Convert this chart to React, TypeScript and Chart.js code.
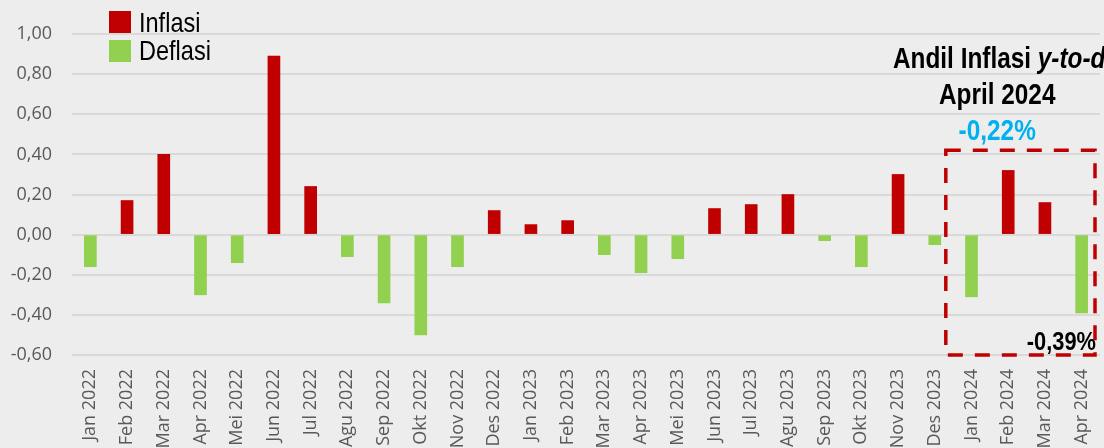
import React, { useEffect, useRef } from "react";
import { Chart, registerables } from "chart.js";

Chart.register(...registerables);

const categories = [
  "Jan 2022", "Feb 2022", "Mar 2022", "Apr 2022", "Mei 2022", "Jun 2022", "Jul 2022",
  "Agu 2022", "Sep 2022", "Okt 2022", "Nov 2022", "Des 2022",
  "Jan 2023", "Feb 2023", "Mar 2023", "Apr 2023", "Mei 2023", "Jun 2023", "Jul 2023",
  "Agu 2023", "Sep 2023", "Okt 2023", "Nov 2023", "Des 2023",
  "Jan 2024", "Feb 2024", "Mar 2024", "Apr 2024",
];

const inflasi = [
  null, 0.17, 0.40, null, null, 0.89, 0.24, null, null, null, null, 0.12,
  0.05, 0.07, null, null, null, 0.13, 0.15, 0.20, null, null, 0.30, null,
  null, 0.32, 0.16, null,
];

const deflasi = [
  -0.16, null, null, -0.30, -0.14, null, null, -0.11, -0.34, -0.50, -0.16, null,
  null, null, -0.10, -0.19, -0.12, null, null, null, -0.03, -0.16, null, -0.05,
  -0.31, null, null, -0.39,
];

const legendLabels = ["Inflasi", "Deflasi"];
const annotationTitle = ["Andil Inflasi ", "y-to-d"];
const annotationSub = "April 2024";
const ytdValue = "-0,22%";
const aprValue = "-0,39%";

const RED = "#C00000";
const GREEN = "#92D050";
const SANS = "'Liberation Sans', Arial, sans-serif";
const NARROW_K = 0.84;

function narrowText(ctx: any, text: string, x: number, y: number, font: string, align: string, color: string) {
  ctx.save();
  ctx.font = font;
  ctx.fillStyle = color;
  ctx.textBaseline = "alphabetic";
  const w = ctx.measureText(text).width * NARROW_K;
  let sx = x;
  if (align === "center") sx = x - w / 2;
  else if (align === "right") sx = x - w;
  ctx.translate(sx, y);
  ctx.scale(NARROW_K, 1);
  ctx.textAlign = "left";
  ctx.fillText(text, 0, 0);
  ctx.restore();
  return w;
}

function narrowWidth(ctx: any, text: string, font: string) {
  ctx.save();
  ctx.font = font;
  const w = ctx.measureText(text).width * NARROW_K;
  ctx.restore();
  return w;
}

const overlayPlugin = {
  id: "overlay",
  beforeDraw(chart: any) {
    const { ctx, width, height } = chart;
    ctx.save();
    ctx.fillStyle = "#EDEDED";
    ctx.fillRect(0, 0, width, height);
    ctx.restore();
  },
  afterDraw(chart: any) {
    const { ctx } = chart;
    const x = chart.scales.x;
    const y = chart.scales.y;
    ctx.save();
    // Legend
    const colors = [RED, GREEN];
    legendLabels.forEach((lab, i) => {
      const top = 11 + i * 29;
      ctx.fillStyle = colors[i];
      ctx.fillRect(109, top, 22, 22);
      narrowText(ctx, lab, 139, 32 + i * 28, `28px ${SANS}`, "left", "#000");
    });

    // Dashed box
    const left = x.getPixelForValue(23.3);
    const right = chart.chartArea.right - 5;
    const top = y.getPixelForValue(0.42);
    const bottom = y.getPixelForValue(-0.6);
    ctx.strokeStyle = RED;
    ctx.lineWidth = 3.5;
    ctx.setLineDash([15, 12]);
    ctx.strokeRect(left, top, right - left, bottom - top);
    ctx.setLineDash([]);

    // Title
    const cx = x.getPixelForValue(24.7);
    const fB = `bold 29px ${SANS}`;
    const fBI = `italic bold 29px ${SANS}`;
    const w1 = narrowWidth(ctx, annotationTitle[0], fB);
    const sx = 893;
    narrowText(ctx, annotationTitle[0], sx, 68, fB, "left", "#000");
    narrowText(ctx, annotationTitle[1], sx + w1, 68, fBI, "left", "#000");

    narrowText(ctx, annotationSub, cx, 104, fB, "center", "#000");
    narrowText(ctx, ytdValue, cx, 140, fB, "center", "#00B0F0");
    narrowText(ctx, aprValue, right + 1, 350, `bold 26px ${SANS}`, "right", "#000");
    ctx.restore();
  },
};

export default function App() {
  const canvasRef = useRef<HTMLCanvasElement | null>(null);

  useEffect(() => {
    document.body.style.margin = "0";
    document.body.style.background = "#EDEDED";
    const canvas = canvasRef.current;
    if (!canvas) return;
    const chart = new Chart(canvas, {
      type: "bar",
      data: {
        labels: categories,
        datasets: [
          {
            label: legendLabels[0],
            data: inflasi as any,
            backgroundColor: RED,
            barThickness: 12,
          },
          {
            label: legendLabels[1],
            data: deflasi as any,
            backgroundColor: GREEN,
            barThickness: 12,
          },
        ],
      },
      options: {
        animation: false,
        responsive: false,
        maintainAspectRatio: false,
        layout: { padding: { top: 34, right: 4, left: 0, bottom: 0 } },
        plugins: {
          legend: { display: false },
          tooltip: { enabled: false },
        },
        scales: {
          x: {
            stacked: true,
            grid: { display: false, drawTicks: false },
            border: { display: false },
            ticks: {
              maxRotation: 90,
              minRotation: 90,
              autoSkip: false,
              padding: 14,
              color: "#595959",
              font: { family: "'Open Sans', sans-serif", size: 18 },
            },
            afterFit: (scale: any) => {
              scale.height = 93;
              scale.paddingLeft = 0;
              scale.paddingRight = 0;
            },
          },
          y: {
            stacked: true,
            min: -0.6,
            max: 1.0,
            grid: { color: "#D9D9D9", lineWidth: 2, drawTicks: false },
            border: { display: false },
            ticks: {
              stepSize: 0.2,
              padding: 20,
              color: "#595959",
              font: { family: "'Open Sans', sans-serif", size: 18 },
              callback: (v: any) => {
                const n = Math.abs(Number(v)) < 1e-9 ? 0 : Number(v);
                return n.toFixed(2).replace(".", ",");
              },
            },
            afterFit: (scale: any) => {
              scale.width = 72;
              scale.paddingTop = 0;
              scale.paddingBottom = 0;
            },
          },
        },
      },
      plugins: [overlayPlugin],
    });
    return () => chart.destroy();
  }, []);

  return (
    <div style={{ width: 1104, height: 448, background: "#EDEDED" }}>
      <canvas ref={canvasRef} width={1104} height={448} style={{ display: "block" }} />
    </div>
  );
}
